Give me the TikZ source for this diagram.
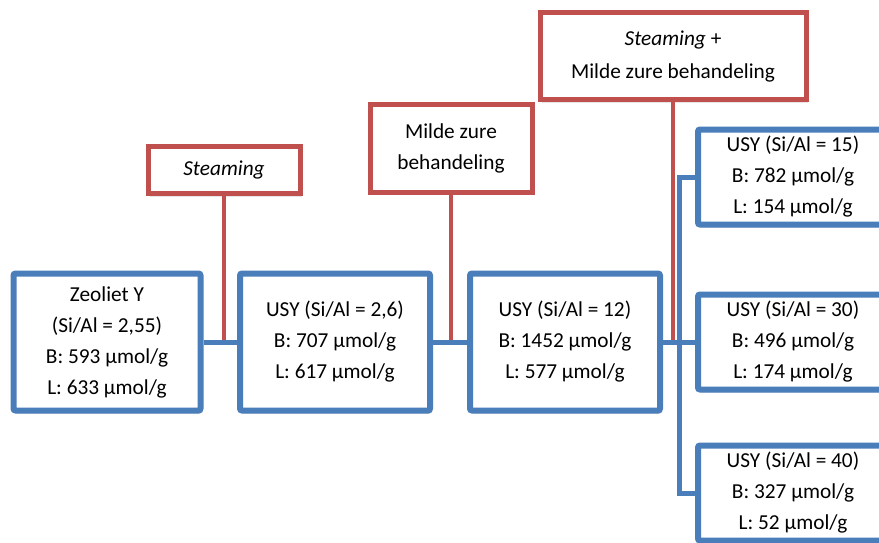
\documentclass[tikz,border=0pt]{standalone}
\usepackage{fontspec}
\setmainfont{Carlito}
\usetikzlibrary{shadows}
\definecolor{colsample}{RGB}{74,126,187}
\definecolor{coltreat}{RGB}{192,80,77}
\tikzset{
  sample/.style={
    rectangle, draw=colsample, line width=6pt, fill=white,
    rounded corners=2pt, align=center, inner sep=0pt,
    minimum width=190pt, minimum height=137pt,
    drop shadow={shadow xshift=2pt, shadow yshift=-3pt, opacity=0.3}
  },
  smallsample/.style={sample, minimum height=95pt},
  treat/.style={
    rectangle, draw=coltreat, line width=5pt, fill=white,
    align=center, inner sep=0pt,
    drop shadow={shadow xshift=2pt, shadow yshift=-3pt, opacity=0.2}
  },
  link/.style={draw=colsample, line width=5pt},
  treatlink/.style={draw=coltreat, line width=4pt},
  every node/.style={font=\fontsize{21.3}{31}\selectfont}
}

\begin{document}
\begin{tikzpicture}[x=1pt, y=-1pt]
  \clip (0,0) rectangle (879,542);

  % The treatments
  \node[treat, minimum width=152pt, minimum height=47pt] (steam) at (224,170)
    {\textit{Steaming}};
  \node[treat, minimum width=162pt, minimum height=88pt] (milde) at (451,148)
    {Milde zure\\behandeling};
  \node[treat, minimum width=266pt, minimum height=87pt] (combi) at (673,56)
    {\textit{Steaming} +\\[2pt]Milde zure behandeling};

  % The samples
  \node[sample, minimum width=187pt] (zeo) at (107,342)
    {Zeoliet Y\\(Si/Al = 2,55)\\B: 593 µmol/g\\L: 633 µmol/g};
  \node[sample] (usya) at (335,342)
    {USY (Si/Al = 2,6)\\B: 707 µmol/g\\L: 617 µmol/g};
  \node[sample] (usyb) at (565,342)
    {USY (Si/Al = 12)\\B: 1452 µmol/g\\L: 577 µmol/g};
  \node[smallsample] (usyc) at (793,177)
    {USY (Si/Al = 15)\\B: 782 µmol/g\\L: 154 µmol/g};
  \node[smallsample] (usyd) at (793,342)
    {USY (Si/Al = 30)\\B: 496 µmol/g\\L: 174 µmol/g};
  \node[smallsample] (usye) at (793,493)
    {USY (Si/Al = 40)\\B: 327 µmol/g\\L: 52 µmol/g};

  % treatment lines
  \draw[treatlink] (steam.south) -- (steam.south |- zeo.east);
  \draw[treatlink] (milde.south) -- (milde.south |- zeo.east);
  \draw[treatlink] (combi.south) -- (combi.south |- zeo.east);

  % sample lines
  \coordinate (split) at (679,342);
  \draw[link] (zeo.east) -- (usya.west);
  \draw[link] (usya.east) -- (usyb.west);
  \draw[link] (usyb.east) -- (split);
  \draw[link] (usyc.west) -| (split) |- (usye.west);
  \draw[link] (split) -- (usyd.west);
\end{tikzpicture}
\end{document}
